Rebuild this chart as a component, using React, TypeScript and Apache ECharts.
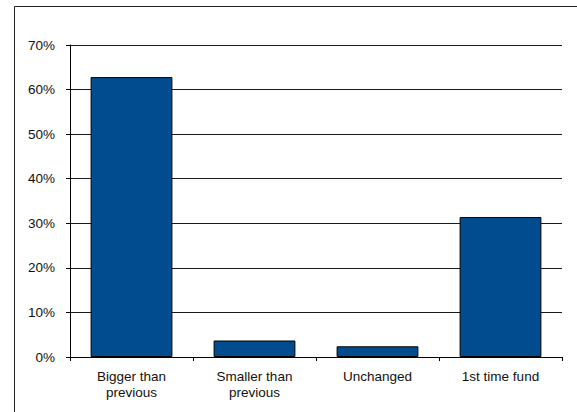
import React, { useEffect, useRef } from "react";
import * as echarts from "echarts";

// Fund size compared with the previous fund (share of respondents, %)
const categories: string[] = ["Bigger than\nprevious", "Smaller than\nprevious", "Unchanged", "1st time fund"];
const shares: number[] = [62.8, 3.7, 2.4, 31.4];
const axisMax = 70;
const axisStep = 10;

const FONT = "'Liberation Sans', Arial, sans-serif";

export default function App() {
  const ref = useRef<HTMLDivElement>(null);

  useEffect(() => {
    if (!ref.current) return;
    const chart = echarts.init(ref.current, undefined, { renderer: "svg" });
    chart.setOption({
      animation: false,
      backgroundColor: "#ffffff",
      textStyle: { fontFamily: FONT },
      graphic: [
        {
          type: "rect",
          shape: { x: 14.5, y: 6.5, width: 700, height: 600 },
          style: { fill: "none", stroke: "#222", lineWidth: 1 },
          silent: true,
        },
      ],
      grid: { left: 70, right: 15, top: 45, bottom: 55, containLabel: false },
      xAxis: {
        type: "category",
        data: categories,
        axisLine: { show: true, lineStyle: { color: "#000", width: 1 } },
        axisTick: { show: true, length: 4, lineStyle: { color: "#000" } },
        axisLabel: {
          color: "#111",
          fontSize: 13.5,
          lineHeight: 16,
          margin: 11,
          fontFamily: FONT,
          interval: 0,
        },
      },
      yAxis: {
        type: "value",
        min: 0,
        max: axisMax,
        interval: axisStep,
        axisLine: { show: true, lineStyle: { color: "#000", width: 1 } },
        axisTick: { show: true, length: 4, lineStyle: { color: "#000" } },
        axisLabel: {
          color: "#111",
          fontSize: 13.5,
          margin: 15,
          fontFamily: FONT,
          formatter: "{value}%",
        },
        splitLine: { show: true, lineStyle: { color: "#1a1a1a", width: 1 } },
      },
      series: [
        {
          type: "bar",
          data: shares,
          barCategoryGap: "33.5%",
          itemStyle: { color: "#004C8F", borderColor: "#000", borderWidth: 1 },
        },
      ],
    });
    return () => chart.dispose();
  }, []);

  return (
    <div
      ref={ref}
      style={{ position: "absolute", left: 0, top: 0, width: 577, height: 412 }}
    />
  );
}
